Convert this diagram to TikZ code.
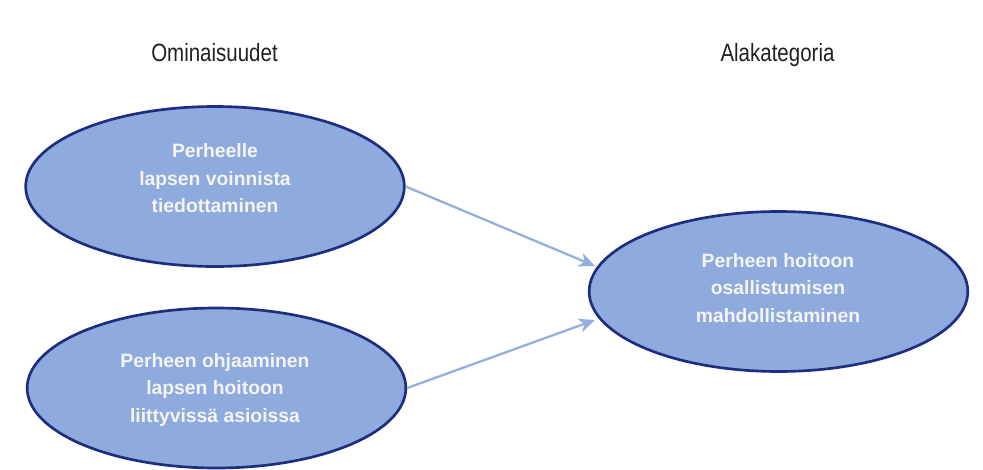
\documentclass[tikz,border=0pt]{standalone}
\usepackage{fontspec}
\setmainfont{Liberation Sans}
\newfontfamily\headfont[FakeStretch=0.82]{Liberation Sans}
\usetikzlibrary{shapes.geometric,arrows.meta}

\definecolor{ellfill}{HTML}{8FAADC}
\definecolor{ellline}{HTML}{1F2D80}
\definecolor{linkblue}{HTML}{94AEDD}
\definecolor{headgray}{HTML}{222222}
\definecolor{lbltext}{HTML}{F4F4F4}

\tikzset{
  ell/.style={ellipse, draw=ellline, fill=ellfill, line width=2pt,
    minimum width=284pt, minimum height=120pt, inner sep=0pt},
  lbl/.style={text=lbltext, font=\bfseries\fontsize{14.5pt}{20.6pt}\selectfont,
    align=center, inner sep=0pt, anchor=north},
  head/.style={text=headgray, font=\headfont\fontsize{18.75pt}{22pt}\selectfont,
    inner sep=0pt, anchor=base},
  conn/.style={draw=linkblue, line width=1.7pt,
    -{Stealth[length=12pt, width=10.5pt, inset=3.5pt]}}
}

\begin{document}
\begin{tikzpicture}[x=0.75pt, y=-0.75pt]
  \useasboundingbox (0,0) rectangle (983,469);
  \clip (0,0) rectangle (983,469);
  \fill[white] (0,0) rectangle (983,469);

  % column headings
  \node[head] (h1) at (214.5,61) {Ominaisuudet};
  \node[head] (h2) at (777.5,61) {Alakategoria};

  % ellipses
  \node[ell] (e1) at (215,186.5) {};
  \node[ell] (e2) at (216.5,388) {};
  \node[ell] (e3) at (778.5,291.5) {};

  % ellipse texts
  \node[lbl] (t1) at (215,143.5) {Perheelle\\lapsen voinnista\\tiedottaminen};
  \node[lbl] (t2) at (215,353) {Perheen ohjaaminen\\lapsen hoitoon\\liittyviss\"a asioissa};
  \node[lbl] (t3) at (778,253) {Perheen hoitoon\\osallistumisen\\mahdollistaminen};

  % arrow ends
  \coordinate (in1) at (595,266);
  \coordinate (in2) at (595,320);

  \draw[conn] (e1.east) -- (in1);
  \draw[conn] (e2.east) -- (in2);
\end{tikzpicture}
\end{document}
